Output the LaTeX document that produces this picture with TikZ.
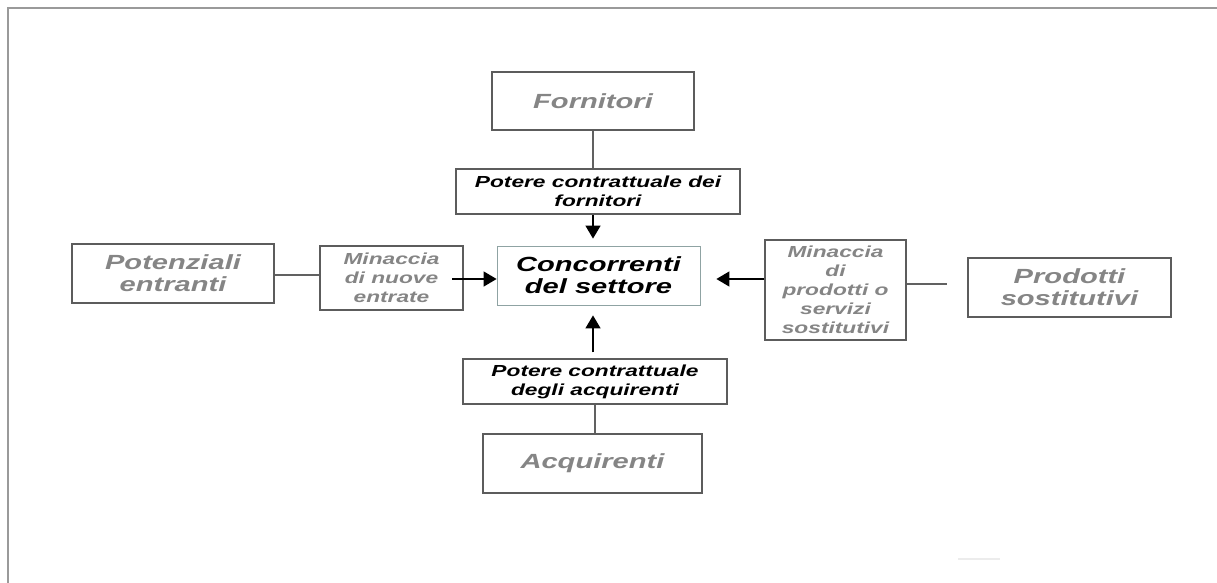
\documentclass[tikz,border=0pt]{standalone}
\usepackage{fontspec}
\setmainfont{Liberation Sans}[FakeStretch=1.42]
\usepackage{xcolor}
\usetikzlibrary{arrows.meta}

\definecolor{boxline}{HTML}{5C5C5C}
\definecolor{linkline}{HTML}{616161}
\definecolor{fadetext}{HTML}{858585}
\definecolor{framegray}{HTML}{9A9A9A}
\definecolor{coreline}{HTML}{8FA3A3}

\tikzset{
  force/.style={draw=boxline, line width=1.4pt, align=center, inner sep=0pt,
    text=fadetext, font=\fontsize{20.5}{22}\selectfont\bfseries\itshape},
  threat/.style={draw=boxline, line width=1.4pt, align=center, inner sep=0pt,
    text=fadetext, font=\fontsize{16}{19}\selectfont\bfseries\itshape},
  power/.style={threat, text=black},
  link/.style={draw=linkline, line width=1.4pt},
  push/.style={link, draw=black, -{Triangle[length=13pt,width=15pt]}}
}

\begin{document}
\begin{tikzpicture}[x=1pt, y=-1pt]

\useasboundingbox (0,0) rectangle (1217,583);

% Frame
\draw[framegray, line width=1.3pt] (1217,8) -- (8,8) -- (8,583);
\draw[gray!15, line width=1.5pt] (958,559) -- (1000,559);

% Centre
\node[draw=coreline, line width=0.8pt, align=center, inner sep=0pt,
  minimum width=203pt, minimum height=59pt,
  font=\fontsize{20.5}{22}\selectfont\bfseries\itshape] (conc) at (598.5,275.5)
  {Concorrenti\\del settore};

% Outer forces
\node[force, minimum width=202pt, minimum height=58pt] (forn) at (593,101) {Fornitori};
\node[force, minimum width=202pt, minimum height=59pt] (pot) at (173,273.5) {Potenziali\\entranti};
\node[force, minimum width=203pt, minimum height=59pt] (prod) at (1069.5,287.5) {Prodotti\\sostitutivi};
\node[force, minimum width=219pt, minimum height=59pt] (acq) at (592.5,463.5) {Acquirenti};

% Middle boxes
\node[power, minimum width=284pt, minimum height=45pt] (potf) at (598,191.5)
  {Potere contrattuale dei\\fornitori};
\node[power, minimum width=264pt, minimum height=45pt] (pota) at (595,381.5)
  {Potere contrattuale\\degli acquirenti};
\node[threat, minimum width=143pt, minimum height=64pt] (minn) at (391.5,278)
  {Minaccia\\di nuove\\entrate};
\node[threat, minimum width=141pt, minimum height=100pt] (mins) at (835.5,290)
  {Minaccia\\di\\prodotti o\\servizi\\sostitutivi};

% Top
\draw[link] (forn.south) -- (forn.south |- potf.north);
\draw[push, shorten >=7pt] (forn.south |- potf.south) -- (forn.south |- conc.north);

% Left
\draw[link] (pot.east |- 0,275) -- (minn.west |- 0,275);
\coordinate (minnout) at (452,279);
\draw[push] (minnout) -- (minnout -| conc.west);

% Right
\draw[push, shorten >=16pt] (mins.west |- 0,279) -- (conc.east |- 0,279);
\draw[link, shorten >=20pt] (mins.east |- 0,284) -- (prod.west |- 0,284);

% Bottom
\draw[push, shorten <=6pt, shorten >=10pt] (forn.south |- pota.north) -- (forn.south |- conc.south);
\draw[link] (acq.north -| pota.south) -- (pota.south);

\end{tikzpicture}
\end{document}
